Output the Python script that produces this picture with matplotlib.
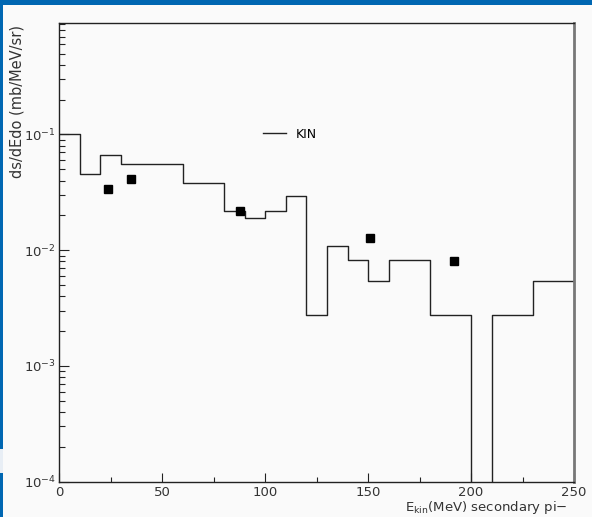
import numpy as np
import matplotlib
matplotlib.use("Agg")
import matplotlib.pyplot as plt
import matplotlib.patches as patches
from matplotlib.ticker import LogLocator, MultipleLocator, FixedLocator

# histogram (KIN), bins of 10 MeV from 0 to 250
bin_edges = np.arange(0, 260, 10)
kin_values = [0.100, 0.0458, 0.0664, 0.0558, 0.0558, 0.0558, 0.0381, 0.0381,
              0.0216, 0.0190, 0.0216, 0.0292, 0.00274, 0.01096, 0.0082,
              0.00545, 0.0082, 0.0082, 0.00274, 0.00274, 0.0,
              0.00274, 0.00274, 0.00545, 0.00545]

# data points
pts_x = [23.8, 34.8, 87.9, 150.8, 191.5]
pts_y = [0.0338, 0.0415, 0.0216, 0.0128, 0.0081]

y_ticks = [1e-4, 1e-3, 1e-2, 1e-1]
y_tick_labels = [r'$10^{-4}$', r'$10^{-3}$', r'$10^{-2}$', r'$10^{-1}$']
x_ticks = [0, 50, 100, 150, 200, 250]

plt.rcParams['font.family'] = ['DejaVu Sans']
plt.rcParams['mathtext.default'] = 'regular'

W, H = 592, 517
fig = plt.figure(figsize=(W / 100, H / 100), dpi=100)
fig.patch.set_facecolor('#fafafa')

ax = fig.add_axes([59.3 / W, 1 - 481.7 / H, (574 - 59.3) / W, (481.7 - 22.7) / H])
ax.set_facecolor('#fafafa')
ax.set_yscale('log', nonpositive='clip')

# step histogram
step_y = list(kin_values) + [kin_values[-1]]
ax.step(bin_edges, step_y, where='post', color='#222222', lw=1.0, label='KIN')
ax.plot(pts_x, pts_y, 's', color='black', ms=5.3, mec='black')

ax.set_xlim(0, 250)
ax.set_ylim(1e-4, 10 ** (-1 + (134.7 - 22.7) / 116))

ax.yaxis.set_major_locator(FixedLocator(y_ticks))
ax.set_yticklabels(y_tick_labels)
ax.yaxis.set_minor_locator(LogLocator(base=10, subs=np.arange(2, 10)))
ax.yaxis.set_minor_formatter(plt.NullFormatter())
ax.set_xticks(x_ticks)
ax.xaxis.set_minor_locator(MultipleLocator(25))

ax.tick_params(axis='both', which='both', direction='in', top=False, right=False,
               colors='#222222', labelcolor='#333333', labelsize=9.5)
ax.tick_params(axis='y', which='major', length=7.2, width=0.8, pad=2.5)
ax.tick_params(axis='y', which='minor', length=4, width=0.8)
ax.tick_params(axis='x', which='major', length=6.5, width=0.8, pad=3)
ax.tick_params(axis='x', which='minor', length=3.6, width=0.8)

for s in ['left', 'bottom', 'top']:
    ax.spines[s].set_color('#222222')
    ax.spines[s].set_linewidth(1.0)
ax.spines['right'].set_color('#777777')
ax.spines['right'].set_linewidth(2.0)

ax.legend(loc='center left', bbox_to_anchor=(263 / W, 1 - 134 / H),
          bbox_transform=fig.transFigure, frameon=False, fontsize=9,
          handlelength=1.8, handletextpad=0.8, borderpad=0, borderaxespad=0)

fig.text(17 / W, 1 - 25 / H, 'ds/dEdo (mb/MeV/sr)', rotation=90, ha='center',
         va='top', fontsize=10.5, color='#333333')
fig.text(568 / W, 1 - 508 / H, r'E$_{kin}$(MeV) secondary pi$-$', ha='right',
         va='center', fontsize=9.5, color='#333333')

# blue window frame
blue = '#0067b2'
fig.add_artist(patches.Rectangle((0, 1 - 5 / H), 1, 5 / H, transform=fig.transFigure,
                                 color=blue, lw=0))
fig.add_artist(patches.Rectangle((0, 0), 3 / W, 1, transform=fig.transFigure,
                                 color=blue, lw=0))
fig.add_artist(patches.Rectangle((0, 1 - 473 / H), 3 / W, 24 / H, transform=fig.transFigure,
                                 color='#e8eef5', lw=0))

fig.savefig('out.png', dpi=100, facecolor=fig.get_facecolor())
